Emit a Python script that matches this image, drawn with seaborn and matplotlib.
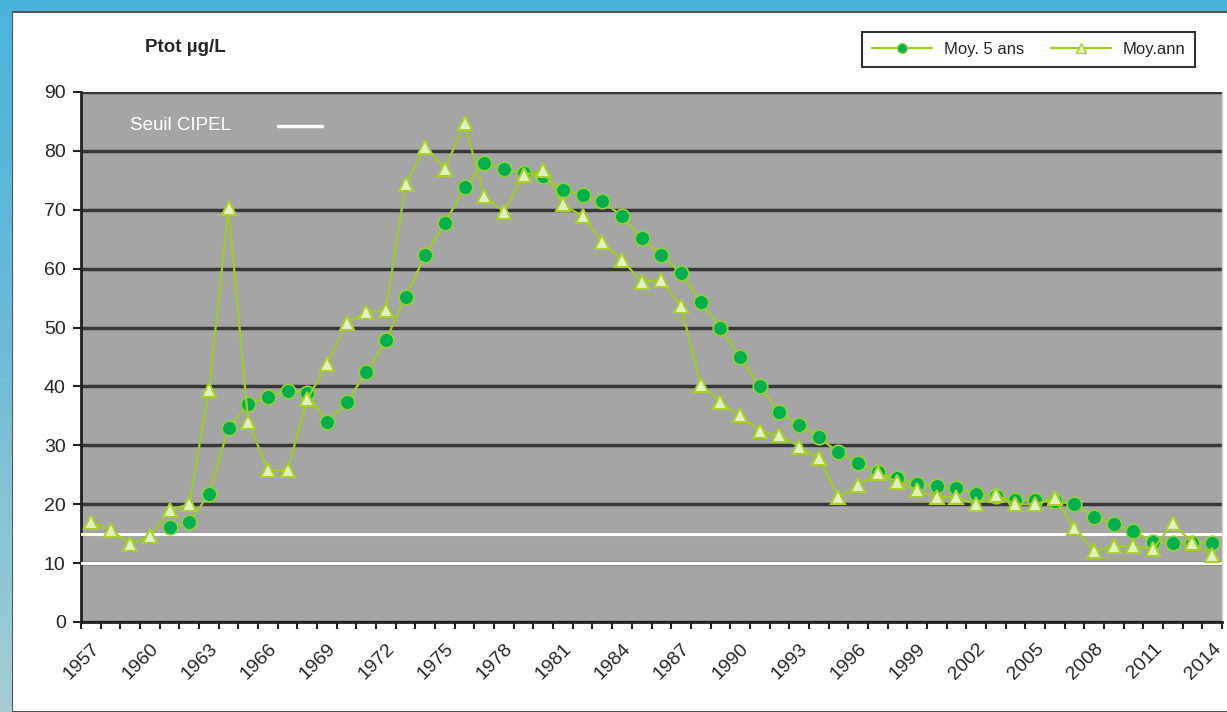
import numpy as np
import pandas as pd
import matplotlib
matplotlib.use("Agg")
import matplotlib.pyplot as plt
from matplotlib.patches import Rectangle
from matplotlib.lines import Line2D
from matplotlib.colors import LinearSegmentedColormap
import seaborn as sns

# donnees (Ptot en ug/L)
annees = list(range(1957, 2015))
moy_ann = [17.0, 15.6, 13.3, 14.6, 19.0, 20.0, 39.4, 70.3, 34.0, 25.8,
           25.8, 37.8, 43.8, 50.8, 52.6, 53.0, 74.3, 80.6, 77.0, 84.7,
           72.3, 69.7, 75.9, 76.7, 70.9, 68.9, 64.5, 61.5, 57.8, 58.0,
           53.6, 40.3, 37.3, 35.1, 32.4, 31.7, 29.8, 27.9, 21.2, 23.3,
           25.3, 23.8, 22.4, 21.2, 21.2, 20.0, 21.5, 20.0, 20.0, 21.0,
           16.0, 12.0, 12.9, 12.9, 12.4, 16.8, 13.4, 11.3]
annees_5 = list(range(1961, 2015))
moy_5ans = [16.2, 16.9, 21.7, 33.0, 37.0, 38.2, 39.3, 38.9, 33.9, 37.3,
            42.4, 47.9, 55.2, 62.3, 67.7, 73.9, 77.9, 76.9, 76.2, 75.7,
            73.3, 72.5, 71.5, 68.9, 65.2, 62.3, 59.3, 54.4, 49.9, 45.0,
            40.0, 35.6, 33.5, 31.4, 28.8, 27.0, 25.5, 24.4, 23.5, 23.1,
            22.7, 21.8, 21.4, 20.7, 20.7, 20.5, 20.0, 17.9, 16.6, 15.4,
            13.6, 13.5, 13.5, 13.4]
seuils = [10, 15]
ticks_annees = list(range(1957, 2015, 3))

df_ann = pd.DataFrame({"annee": annees, "val": moy_ann})
df_5 = pd.DataFrame({"annee": annees_5, "val": moy_5ans})

sns.set_theme(style="white")
plt.rcParams["font.family"] = ["Liberation Sans", "DejaVu Sans"]

fig = plt.figure(figsize=(12.27, 7.12), dpi=100)
fig.patch.set_facecolor("#4ab3dc")

# bande de gauche en degrade
ax_bord = fig.add_axes([0, 0, 12 / 1227, 1])
degrade = LinearSegmentedColormap.from_list("bord", ["#4ab3dc", "#6fbcd6", "#a6ccd2"])
ax_bord.imshow(np.linspace(0, 1, 100).reshape(-1, 1), aspect="auto", cmap=degrade)
ax_bord.axis("off")

fond = Rectangle((12 / 1227, 0), 1, 1 - 12 / 712, transform=fig.transFigure,
                 facecolor="white", edgecolor="#555555", lw=1.5, zorder=-5)
fig.patches.append(fond)

ax = fig.add_axes([81 / 1227, 1 - 622 / 712, 1141 / 1227, 530 / 712])
ax.set_zorder(2)
ax.set_facecolor("#a5a5a5")

ligne = "#9ccc2c"
sns.lineplot(data=df_5, x="annee", y="val", ax=ax, color=ligne, lw=1.6,
             marker="o", markersize=10.5, markerfacecolor="#00b04f",
             markeredgecolor="#8fd03a", markeredgewidth=1.2, zorder=4)
sns.lineplot(data=df_ann, x="annee", y="val", ax=ax, color=ligne, lw=1.6,
             marker="^", markersize=10.5, markerfacecolor="#e3efc2",
             markeredgecolor="#a8d02c", markeredgewidth=1.5, zorder=5)

for s in seuils:
    ax.axhline(s, color="white", lw=2.2, zorder=3)

ax.set_xlim(1956.5, 2014.5)
ax.set_ylim(0, 90)
ax.set_yticks(range(0, 91, 10))
ax.yaxis.grid(True, color="#383838", lw=2.5, zorder=1)
ax.set_axisbelow(True)
ax.set_xticks(ticks_annees)
ax.set_xticklabels([str(a) for a in ticks_annees], rotation=45, ha="right",
                   rotation_mode="anchor", fontsize=14)
ax.set_xticks(np.arange(1956.5, 2015, 1), minor=True)
ax.tick_params(axis="x", which="major", length=0, pad=13)
ax.tick_params(axis="x", which="minor", length=5, width=1.5, color="#222222", direction="out")
ax.tick_params(axis="y", length=6, width=1.5, color="#222222", direction="out",
               labelsize=14, pad=5)
ax.xaxis.set_ticks_position("bottom")
ax.yaxis.set_ticks_position("left")
ax.set_xlabel("")
ax.set_ylabel("")

for side in ["left", "bottom"]:
    ax.spines[side].set_color("#222222")
    ax.spines[side].set_linewidth(2)
ax.spines["top"].set_visible(False)
ax.spines["right"].set_color("#d0d0d0")
ax.spines["right"].set_linewidth(1)

# legende "Seuil CIPEL"
ax.text(0.043, 0.936, "Seuil CIPEL", transform=ax.transAxes, color="white",
        fontsize=13.5, va="center", ha="left")
ax.plot([0.173, 0.211], [0.936, 0.936], transform=ax.transAxes, color="white", lw=2.5)

fig.text(145 / 1227, 1 - 47 / 712, "Ptot µg/L", fontsize=13.5, fontweight="bold",
         ha="left", va="center")

poignees = [
    Line2D([], [], color=ligne, lw=1.6, marker="o", markersize=7,
           markerfacecolor="#00b04f", markeredgecolor="#8fd03a"),
    Line2D([], [], color=ligne, lw=1.6, marker="^", markersize=7,
           markerfacecolor="#e3efc2", markeredgecolor="#a8d02c"),
]
leg = ax.legend(poignees, ["Moy. 5 ans", "Moy.ann"], ncol=2, loc="upper right",
                bbox_to_anchor=(1195 / 1227, 1 - 32 / 712), bbox_transform=fig.transFigure,
                borderaxespad=0, fancybox=False, framealpha=1, edgecolor="#333333",
                fontsize=12, handlelength=3.6, columnspacing=1.6, borderpad=0.6,
                handletextpad=0.7)
leg.get_frame().set_linewidth(1.5)

fig.savefig("out.png", dpi=100)
